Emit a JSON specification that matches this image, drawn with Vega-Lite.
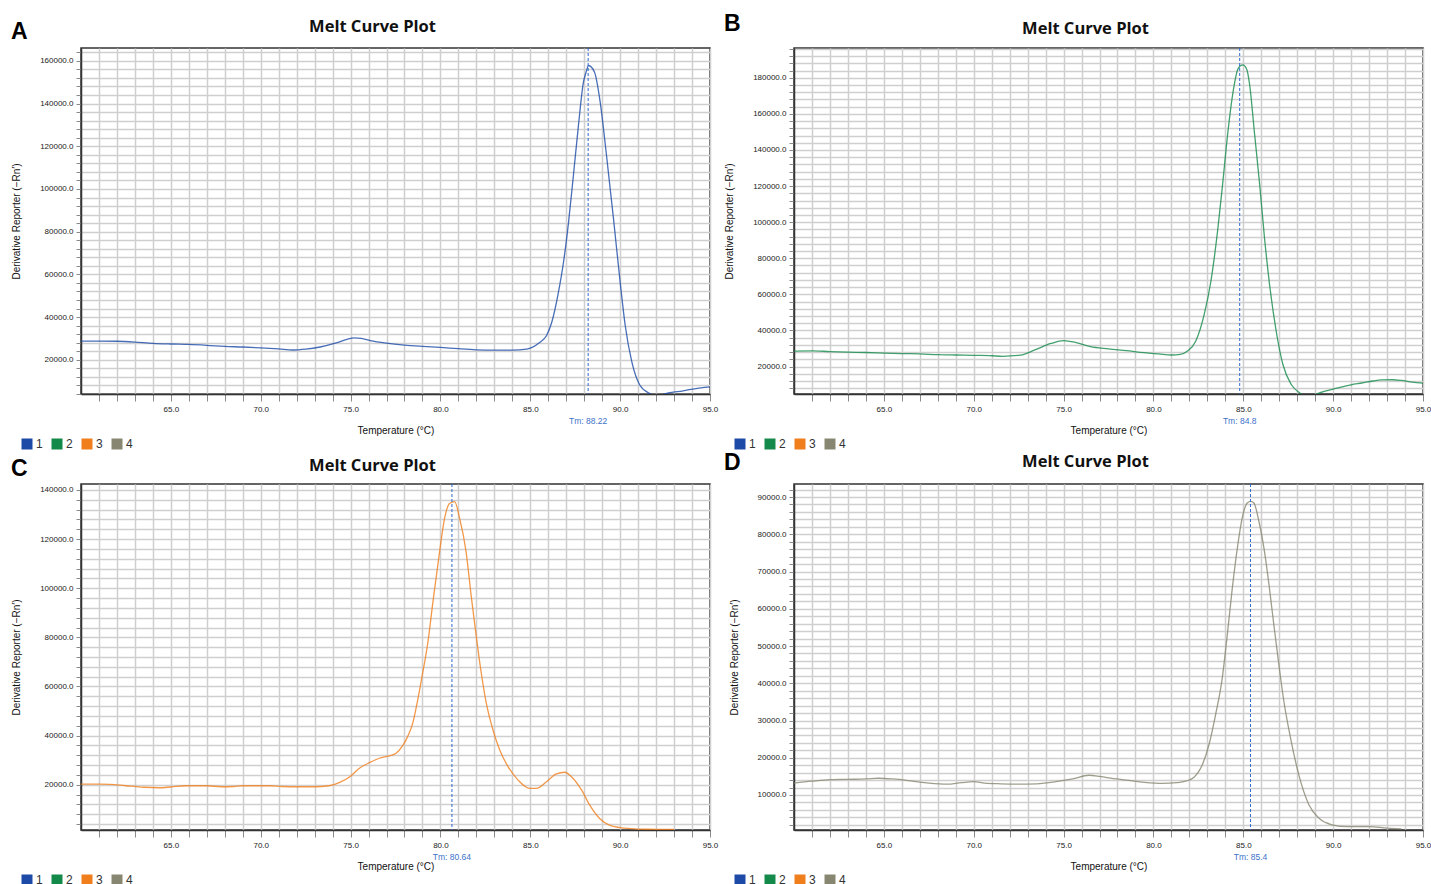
{
"$schema": "https://vega.github.io/schema/vega-lite/v6.json",
"padding": {"left": 10, "top": 11, "right": 0, "bottom": 0},
"columns": 2,
"spacing": {"row": 90, "column": 84},
"bounds": "flush",
"resolve": {"scale": {"color": "independent", "x": "independent", "y": "independent"}},
"datasets": {
"curveA": [
{"T":60,"V":28800,"well":"1"},{"T":61,"V":28800,"well":"1"},{"T":62,"V":28700,"well":"1"},{"T":63,"V":28300,"well":"1"},{"T":64,"V":27700,"well":"1"},{"T":65,"V":27400,"well":"1"},{"T":66,"V":27200,"well":"1"},{"T":67,"V":26800,"well":"1"},{"T":68,"V":26300,"well":"1"},{"T":69,"V":26000,"well":"1"},{"T":70,"V":25600,"well":"1"},{"T":71,"V":25100,"well":"1"},{"T":71.8,"V":24600,"well":"1"},{"T":72.5,"V":25000,"well":"1"},{"T":73.3,"V":26000,"well":"1"},{"T":74.2,"V":27900,"well":"1"},{"T":74.8,"V":29600,"well":"1"},{"T":75.2,"V":30300,"well":"1"},{"T":75.6,"V":30000,"well":"1"},{"T":76.1,"V":29000,"well":"1"},{"T":77,"V":27800,"well":"1"},{"T":78,"V":26900,"well":"1"},{"T":79,"V":26300,"well":"1"},{"T":80,"V":25800,"well":"1"},{"T":81,"V":25200,"well":"1"},{"T":82,"V":24700,"well":"1"},{"T":83,"V":24500,"well":"1"},{"T":84,"V":24500,"well":"1"},{"T":84.8,"V":25000,"well":"1"},{"T":85.5,"V":28000,"well":"1"},{"T":85.9,"V":31300,"well":"1"},{"T":86.2,"V":37700,"well":"1"},{"T":86.57,"V":51800,"well":"1"},{"T":86.85,"V":65800,"well":"1"},{"T":87.13,"V":84500,"well":"1"},{"T":87.4,"V":106400,"well":"1"},{"T":87.68,"V":129800,"well":"1"},{"T":87.96,"V":150100,"well":"1"},{"T":88.11,"V":154800,"well":"1"},{"T":88.24,"V":157800,"well":"1"},{"T":88.57,"V":154800,"well":"1"},{"T":88.89,"V":140700,"well":"1"},{"T":89.22,"V":117300,"well":"1"},{"T":89.63,"V":86100,"well":"1"},{"T":90,"V":56400,"well":"1"},{"T":90.28,"V":36200,"well":"1"},{"T":90.65,"V":19000,"well":"1"},{"T":91.1,"V":8100,"well":"1"},{"T":91.67,"V":4100,"well":"1"},{"T":92,"V":3000,"well":"1"},{"T":92.5,"V":4100,"well":"1"},{"T":93.5,"V":5500,"well":"1"},{"T":94.5,"V":6900,"well":"1"},{"T":95,"V":7300,"well":"1"}
],
"curveB": [
{"T":60,"V":28600,"well":"2"},{"T":61,"V":28700,"well":"2"},{"T":62,"V":28300,"well":"2"},{"T":63,"V":28000,"well":"2"},{"T":64,"V":27800,"well":"2"},{"T":65,"V":27500,"well":"2"},{"T":66,"V":27200,"well":"2"},{"T":67,"V":27000,"well":"2"},{"T":68,"V":26600,"well":"2"},{"T":69,"V":26400,"well":"2"},{"T":70,"V":26200,"well":"2"},{"T":71,"V":26000,"well":"2"},{"T":71.6,"V":25700,"well":"2"},{"T":72.6,"V":26300,"well":"2"},{"T":73.4,"V":29200,"well":"2"},{"T":74.3,"V":32800,"well":"2"},{"T":75,"V":34400,"well":"2"},{"T":75.7,"V":33300,"well":"2"},{"T":76.5,"V":31000,"well":"2"},{"T":77.5,"V":29800,"well":"2"},{"T":78.5,"V":28800,"well":"2"},{"T":79.5,"V":27700,"well":"2"},{"T":80.3,"V":27000,"well":"2"},{"T":81,"V":26400,"well":"2"},{"T":81.5,"V":26800,"well":"2"},{"T":81.9,"V":28600,"well":"2"},{"T":82.36,"V":34200,"well":"2"},{"T":82.83,"V":49000,"well":"2"},{"T":83.2,"V":67400,"well":"2"},{"T":83.57,"V":95100,"well":"2"},{"T":83.85,"V":121000,"well":"2"},{"T":84.13,"V":148700,"well":"2"},{"T":84.41,"V":170800,"well":"2"},{"T":84.72,"V":185200,"well":"2"},{"T":84.97,"V":187100,"well":"2"},{"T":85.2,"V":184500,"well":"2"},{"T":85.35,"V":176400,"well":"2"},{"T":85.63,"V":148700,"well":"2"},{"T":85.91,"V":121000,"well":"2"},{"T":86.18,"V":91400,"well":"2"},{"T":86.46,"V":65600,"well":"2"},{"T":86.83,"V":39700,"well":"2"},{"T":87.2,"V":21300,"well":"2"},{"T":87.66,"V":10200,"well":"2"},{"T":88.13,"V":5500,"well":"2"},{"T":88.6,"V":3000,"well":"2"},{"T":89.1,"V":4900,"well":"2"},{"T":89.5,"V":6200,"well":"2"},{"T":90,"V":7500,"well":"2"},{"T":90.5,"V":8700,"well":"2"},{"T":91,"V":9900,"well":"2"},{"T":91.6,"V":10900,"well":"2"},{"T":92.2,"V":12000,"well":"2"},{"T":92.7,"V":12600,"well":"2"},{"T":93.3,"V":12700,"well":"2"},{"T":93.8,"V":12300,"well":"2"},{"T":94.4,"V":11400,"well":"2"},{"T":95,"V":10800,"well":"2"}
],
"curveC": [
{"T":60,"V":20300,"well":"3"},{"T":61,"V":20300,"well":"3"},{"T":61.6,"V":20200,"well":"3"},{"T":62.5,"V":19600,"well":"3"},{"T":63.5,"V":19000,"well":"3"},{"T":64.3,"V":18800,"well":"3"},{"T":65,"V":19100,"well":"3"},{"T":65.8,"V":19600,"well":"3"},{"T":67,"V":19600,"well":"3"},{"T":67.8,"V":19200,"well":"3"},{"T":68.5,"V":19300,"well":"3"},{"T":69,"V":19600,"well":"3"},{"T":70.5,"V":19600,"well":"3"},{"T":71.2,"V":19300,"well":"3"},{"T":72,"V":19200,"well":"3"},{"T":73,"V":19200,"well":"3"},{"T":73.8,"V":19600,"well":"3"},{"T":74.4,"V":21000,"well":"3"},{"T":75,"V":23500,"well":"3"},{"T":75.49,"V":26700,"well":"3"},{"T":76.05,"V":29000,"well":"3"},{"T":76.6,"V":30800,"well":"3"},{"T":77.16,"V":31800,"well":"3"},{"T":77.53,"V":32800,"well":"3"},{"T":77.9,"V":35900,"well":"3"},{"T":78.18,"V":39700,"well":"3"},{"T":78.46,"V":45100,"well":"3"},{"T":78.74,"V":54700,"well":"3"},{"T":78.98,"V":64200,"well":"3"},{"T":79.3,"V":77900,"well":"3"},{"T":79.58,"V":94200,"well":"3"},{"T":79.95,"V":114700,"well":"3"},{"T":80.23,"V":128400,"well":"3"},{"T":80.51,"V":134500,"well":"3"},{"T":80.79,"V":135200,"well":"3"},{"T":81.07,"V":128400,"well":"3"},{"T":81.43,"V":114700,"well":"3"},{"T":81.71,"V":97000,"well":"3"},{"T":81.99,"V":80600,"well":"3"},{"T":82.27,"V":65600,"well":"3"},{"T":82.55,"V":53300,"well":"3"},{"T":82.92,"V":42400,"well":"3"},{"T":83.3,"V":34200,"well":"3"},{"T":83.76,"V":27400,"well":"3"},{"T":84.32,"V":21900,"well":"3"},{"T":84.97,"V":18500,"well":"3"},{"T":85.34,"V":18500,"well":"3"},{"T":85.9,"V":21200,"well":"3"},{"T":86.45,"V":24400,"well":"3"},{"T":86.92,"V":25100,"well":"3"},{"T":87.29,"V":23300,"well":"3"},{"T":87.85,"V":17900,"well":"3"},{"T":88.31,"V":11700,"well":"3"},{"T":88.87,"V":6200,"well":"3"},{"T":89.43,"V":3500,"well":"3"},{"T":90,"V":2600,"well":"3"},{"T":90.6,"V":2200,"well":"3"},{"T":91.5,"V":1900,"well":"3"},{"T":92.5,"V":1800,"well":"3"},{"T":93,"V":1800,"well":"3"}
],
"curveD": [
{"T":60,"V":13200,"well":"4"},{"T":61,"V":13700,"well":"4"},{"T":62,"V":14100,"well":"4"},{"T":63,"V":14200,"well":"4"},{"T":64,"V":14300,"well":"4"},{"T":64.7,"V":14500,"well":"4"},{"T":65.5,"V":14300,"well":"4"},{"T":66.5,"V":13800,"well":"4"},{"T":67.5,"V":13200,"well":"4"},{"T":68.5,"V":12900,"well":"4"},{"T":69.3,"V":13300,"well":"4"},{"T":70,"V":13600,"well":"4"},{"T":70.6,"V":13200,"well":"4"},{"T":71.5,"V":13000,"well":"4"},{"T":72.5,"V":12900,"well":"4"},{"T":73.5,"V":13000,"well":"4"},{"T":74.5,"V":13500,"well":"4"},{"T":75.5,"V":14300,"well":"4"},{"T":76.4,"V":15300,"well":"4"},{"T":77,"V":15000,"well":"4"},{"T":77.5,"V":14600,"well":"4"},{"T":78.5,"V":14000,"well":"4"},{"T":79.5,"V":13400,"well":"4"},{"T":80.5,"V":13100,"well":"4"},{"T":81.3,"V":13300,"well":"4"},{"T":81.8,"V":13700,"well":"4"},{"T":82.26,"V":14750,"well":"4"},{"T":82.72,"V":18100,"well":"4"},{"T":83.09,"V":23500,"well":"4"},{"T":83.46,"V":31600,"well":"4"},{"T":83.83,"V":41400,"well":"4"},{"T":84.11,"V":53000,"well":"4"},{"T":84.39,"V":65600,"well":"4"},{"T":84.67,"V":76300,"well":"4"},{"T":84.94,"V":84400,"well":"4"},{"T":85.22,"V":88400,"well":"4"},{"T":85.41,"V":88850,"well":"4"},{"T":85.59,"V":88400,"well":"4"},{"T":85.87,"V":83500,"well":"4"},{"T":86.15,"V":76300,"well":"4"},{"T":86.43,"V":66500,"well":"4"},{"T":86.7,"V":55700,"well":"4"},{"T":86.98,"V":45000,"well":"4"},{"T":87.26,"V":35100,"well":"4"},{"T":87.63,"V":25300,"well":"4"},{"T":88.09,"V":15400,"well":"4"},{"T":88.65,"V":7400,"well":"4"},{"T":89.2,"V":3800,"well":"4"},{"T":89.94,"V":2000,"well":"4"},{"T":90.8,"V":1500,"well":"4"},{"T":92,"V":1500,"well":"4"},{"T":93,"V":1100,"well":"4"},{"T":93.8,"V":900,"well":"4"}
]
},
"concat": [
{
"width": 629, "height": 346,
"layer": [
{"data": {"name": "curveA"},
 "mark": {"type": "line", "clip": true, "strokeWidth": 1.3, "strokeOpacity": 0.8, "interpolate": "monotone"},
 "encoding": {
  "x": {"field": "T", "type": "quantitative", "title": "Temperature (°C)", "scale": {"domain": [60, 95], "nice": false, "zero": false},
   "axis": {"tickCount": 200, "values": [61,62,63,64,65,66,67,68,69,70,71,72,73,74,75,76,77,78,79,80,81,82,83,84,85,86,87,88,89,90,91,92,93,94,95], "labelExpr": "datum.value % 5 === 0 ? format(datum.value, '.1f') : ''"}},
  "y": {"field": "V", "type": "quantitative", "title": "Derivative Reporter (−Rn′)", "scale": {"domain": [4000, 166000], "nice": false, "zero": false},
   "axis": {"tickCount": 200, "values": [4000,8000,12000,16000,20000,24000,28000,32000,36000,40000,44000,48000,52000,56000,60000,64000,68000,72000,76000,80000,84000,88000,92000,96000,100000,104000,108000,112000,116000,120000,124000,128000,132000,136000,140000,144000,148000,152000,156000,160000,164000], "labelExpr": "datum.value % 20000 === 0 ? format(datum.value, '.1f') : ''"}},
  "color": {"field": "well", "type": "nominal", "scale": {"domain": ["1","2","3","4"], "range": ["#1c4aa6","#138a4a","#f07e1c","#878670"]},
   "legend": {"orient": "none", "legendX": -60, "legendY": 390, "direction": "horizontal", "title": null, "symbolType": "square", "symbolSize": 121, "symbolOpacity": 1, "labelFontSize": 12, "labelOffset": 3, "columnPadding": 8, "padding": 0, "labelColor": "#333",
    "encode": {"symbols": {"update": {"fill": {"signal": "datum.value === '1' ? '#1c4aa6' : datum.value === '2' ? '#138a4a' : datum.value === '3' ? '#f07e1c' : '#878670'"}, "strokeWidth": {"value": 0}}}}}}
 }},
{"data": {"values": [{"Tm": 88.22, "label": "Tm: 88.22"}]},
 "mark": {"type": "rule", "color": "#2e6ad1", "strokeWidth": 1, "strokeDash": [3, 2]},
 "encoding": {"x": {"field": "Tm", "type": "quantitative", "title": "Temperature (°C)", "scale": {"domain": [60, 95], "nice": false, "zero": false}}}},
{"data": {"values": [{"Tm": 88.22, "label": "Tm: 88.22"}]},
 "mark": {"type": "text", "dy": 27, "baseline": "middle", "align": "center", "fontSize": 8.5, "color": "#3d72c9"},
 "encoding": {"x": {"field": "Tm", "type": "quantitative", "title": "Temperature (°C)", "scale": {"domain": [60, 95], "nice": false, "zero": false}},
  "y": {"datum": 4000, "type": "quantitative", "title": "Derivative Reporter (−Rn′)", "scale": {"domain": [4000, 166000], "nice": false, "zero": false}},
  "text": {"field": "label"}}},
{"data": {"values": [{"letter": "A", "head": "Melt Curve Plot", "mid": 77.5}]},
 "mark": {"type": "text", "dx": -70, "dy": -9.5, "align": "left", "baseline": "alphabetic", "fontSize": 23, "fontWeight": "bold", "color": "#000"},
 "encoding": {"x": {"datum": 60, "type": "quantitative", "title": "Temperature (°C)", "scale": {"domain": [60, 95], "nice": false, "zero": false}},
  "y": {"datum": 166000, "type": "quantitative", "title": "Derivative Reporter (−Rn′)", "scale": {"domain": [4000, 166000], "nice": false, "zero": false}},
  "text": {"field": "letter"}}},
{"data": {"values": [{"letter": "A", "head": "Melt Curve Plot", "mid": 77.5}]},
 "mark": {"type": "text", "dx": -23, "dy": -16, "align": "center", "baseline": "alphabetic", "font": "Open Sans", "fontSize": 16.5, "fontWeight": "bold", "color": "#111"},
 "encoding": {"x": {"field": "mid", "type": "quantitative", "title": "Temperature (°C)", "scale": {"domain": [60, 95], "nice": false, "zero": false}},
  "y": {"datum": 166000, "type": "quantitative", "title": "Derivative Reporter (−Rn′)", "scale": {"domain": [4000, 166000], "nice": false, "zero": false}},
  "text": {"field": "head"}}}
]
},
{
"width": 629, "height": 346,
"layer": [
{"data": {"name": "curveB"},
 "mark": {"type": "line", "clip": true, "strokeWidth": 1.3, "strokeOpacity": 0.8, "interpolate": "monotone"},
 "encoding": {
  "x": {"field": "T", "type": "quantitative", "title": "Temperature (°C)", "scale": {"domain": [60, 95], "nice": false, "zero": false},
   "axis": {"tickCount": 200, "values": [61,62,63,64,65,66,67,68,69,70,71,72,73,74,75,76,77,78,79,80,81,82,83,84,85,86,87,88,89,90,91,92,93,94,95], "labelExpr": "datum.value % 5 === 0 ? format(datum.value, '.1f') : ''"}},
  "y": {"field": "V", "type": "quantitative", "title": "Derivative Reporter (−Rn′)", "scale": {"domain": [4800, 196500], "nice": false, "zero": false},
   "axis": {"tickCount": 200, "values": [8000,12000,16000,20000,24000,28000,32000,36000,40000,44000,48000,52000,56000,60000,64000,68000,72000,76000,80000,84000,88000,92000,96000,100000,104000,108000,112000,116000,120000,124000,128000,132000,136000,140000,144000,148000,152000,156000,160000,164000,168000,172000,176000,180000,184000,188000,192000,196000], "labelExpr": "datum.value % 20000 === 0 ? format(datum.value, '.1f') : ''"}},
  "color": {"field": "well", "type": "nominal", "scale": {"domain": ["1","2","3","4"], "range": ["#1c4aa6","#138a4a","#f07e1c","#878670"]},
   "legend": {"orient": "none", "legendX": -60, "legendY": 390, "direction": "horizontal", "title": null, "symbolType": "square", "symbolSize": 121, "symbolOpacity": 1, "labelFontSize": 12, "labelOffset": 3, "columnPadding": 8, "padding": 0, "labelColor": "#333",
    "encode": {"symbols": {"update": {"fill": {"signal": "datum.value === '1' ? '#1c4aa6' : datum.value === '2' ? '#138a4a' : datum.value === '3' ? '#f07e1c' : '#878670'"}, "strokeWidth": {"value": 0}}}}}}
 }},
{"data": {"values": [{"Tm": 84.8, "label": "Tm: 84.8"}]},
 "mark": {"type": "rule", "color": "#2e6ad1", "strokeWidth": 1, "strokeDash": [3, 2]},
 "encoding": {"x": {"field": "Tm", "type": "quantitative", "title": "Temperature (°C)", "scale": {"domain": [60, 95], "nice": false, "zero": false}}}},
{"data": {"values": [{"Tm": 84.8, "label": "Tm: 84.8"}]},
 "mark": {"type": "text", "dy": 27, "baseline": "middle", "align": "center", "fontSize": 8.5, "color": "#3d72c9"},
 "encoding": {"x": {"field": "Tm", "type": "quantitative", "title": "Temperature (°C)", "scale": {"domain": [60, 95], "nice": false, "zero": false}},
  "y": {"datum": 4800, "type": "quantitative", "title": "Derivative Reporter (−Rn′)", "scale": {"domain": [4800, 196500], "nice": false, "zero": false}},
  "text": {"field": "label"}}},
{"data": {"values": [{"letter": "B", "head": "Melt Curve Plot", "mid": 77.5}]},
 "mark": {"type": "text", "dx": -70, "dy": -17.5, "align": "left", "baseline": "alphabetic", "fontSize": 23, "fontWeight": "bold", "color": "#000"},
 "encoding": {"x": {"datum": 60, "type": "quantitative", "title": "Temperature (°C)", "scale": {"domain": [60, 95], "nice": false, "zero": false}},
  "y": {"datum": 196500, "type": "quantitative", "title": "Derivative Reporter (−Rn′)", "scale": {"domain": [4800, 196500], "nice": false, "zero": false}},
  "text": {"field": "letter"}}},
{"data": {"values": [{"letter": "B", "head": "Melt Curve Plot", "mid": 77.5}]},
 "mark": {"type": "text", "dx": -23, "dy": -14.5, "align": "center", "baseline": "alphabetic", "font": "Open Sans", "fontSize": 16.5, "fontWeight": "bold", "color": "#111"},
 "encoding": {"x": {"field": "mid", "type": "quantitative", "title": "Temperature (°C)", "scale": {"domain": [60, 95], "nice": false, "zero": false}},
  "y": {"datum": 196500, "type": "quantitative", "title": "Derivative Reporter (−Rn′)", "scale": {"domain": [4800, 196500], "nice": false, "zero": false}},
  "text": {"field": "head"}}}
]
},
{
"width": 629, "height": 346,
"layer": [
{"data": {"name": "curveC"},
 "mark": {"type": "line", "clip": true, "strokeWidth": 1.3, "strokeOpacity": 0.8, "interpolate": "monotone"},
 "encoding": {
  "x": {"field": "T", "type": "quantitative", "title": "Temperature (°C)", "scale": {"domain": [60, 95], "nice": false, "zero": false},
   "axis": {"tickCount": 200, "values": [61,62,63,64,65,66,67,68,69,70,71,72,73,74,75,76,77,78,79,80,81,82,83,84,85,86,87,88,89,90,91,92,93,94,95], "labelExpr": "datum.value % 5 === 0 ? format(datum.value, '.1f') : ''"}},
  "y": {"field": "V", "type": "quantitative", "title": "Derivative Reporter (−Rn′)", "scale": {"domain": [1600, 142400], "nice": false, "zero": false},
   "axis": {"tickCount": 200, "values": [4000,8000,12000,16000,20000,24000,28000,32000,36000,40000,44000,48000,52000,56000,60000,64000,68000,72000,76000,80000,84000,88000,92000,96000,100000,104000,108000,112000,116000,120000,124000,128000,132000,136000,140000], "labelExpr": "datum.value % 20000 === 0 ? format(datum.value, '.1f') : ''"}},
  "color": {"field": "well", "type": "nominal", "scale": {"domain": ["1","2","3","4"], "range": ["#1c4aa6","#138a4a","#f07e1c","#878670"]},
   "legend": {"orient": "none", "legendX": -60, "legendY": 390, "direction": "horizontal", "title": null, "symbolType": "square", "symbolSize": 121, "symbolOpacity": 1, "labelFontSize": 12, "labelOffset": 3, "columnPadding": 8, "padding": 0, "labelColor": "#333",
    "encode": {"symbols": {"update": {"fill": {"signal": "datum.value === '1' ? '#1c4aa6' : datum.value === '2' ? '#138a4a' : datum.value === '3' ? '#f07e1c' : '#878670'"}, "strokeWidth": {"value": 0}}}}}}
 }},
{"data": {"values": [{"Tm": 80.64, "label": "Tm: 80.64"}]},
 "mark": {"type": "rule", "color": "#2e6ad1", "strokeWidth": 1, "strokeDash": [3, 2]},
 "encoding": {"x": {"field": "Tm", "type": "quantitative", "title": "Temperature (°C)", "scale": {"domain": [60, 95], "nice": false, "zero": false}}}},
{"data": {"values": [{"Tm": 80.64, "label": "Tm: 80.64"}]},
 "mark": {"type": "text", "dy": 27, "baseline": "middle", "align": "center", "fontSize": 8.5, "color": "#3d72c9"},
 "encoding": {"x": {"field": "Tm", "type": "quantitative", "title": "Temperature (°C)", "scale": {"domain": [60, 95], "nice": false, "zero": false}},
  "y": {"datum": 1600, "type": "quantitative", "title": "Derivative Reporter (−Rn′)", "scale": {"domain": [1600, 142400], "nice": false, "zero": false}},
  "text": {"field": "label"}}},
{"data": {"values": [{"letter": "C", "head": "Melt Curve Plot", "mid": 77.5}]},
 "mark": {"type": "text", "dx": -70, "dy": -8.5, "align": "left", "baseline": "alphabetic", "fontSize": 23, "fontWeight": "bold", "color": "#000"},
 "encoding": {"x": {"datum": 60, "type": "quantitative", "title": "Temperature (°C)", "scale": {"domain": [60, 95], "nice": false, "zero": false}},
  "y": {"datum": 142400, "type": "quantitative", "title": "Derivative Reporter (−Rn′)", "scale": {"domain": [1600, 142400], "nice": false, "zero": false}},
  "text": {"field": "letter"}}},
{"data": {"values": [{"letter": "C", "head": "Melt Curve Plot", "mid": 77.5}]},
 "mark": {"type": "text", "dx": -23, "dy": -13, "align": "center", "baseline": "alphabetic", "font": "Open Sans", "fontSize": 16.5, "fontWeight": "bold", "color": "#111"},
 "encoding": {"x": {"field": "mid", "type": "quantitative", "title": "Temperature (°C)", "scale": {"domain": [60, 95], "nice": false, "zero": false}},
  "y": {"datum": 142400, "type": "quantitative", "title": "Derivative Reporter (−Rn′)", "scale": {"domain": [1600, 142400], "nice": false, "zero": false}},
  "text": {"field": "head"}}}
]
},
{
"width": 629, "height": 346,
"layer": [
{"data": {"name": "curveD"},
 "mark": {"type": "line", "clip": true, "strokeWidth": 1.3, "strokeOpacity": 0.8, "interpolate": "monotone"},
 "encoding": {
  "x": {"field": "T", "type": "quantitative", "title": "Temperature (°C)", "scale": {"domain": [60, 95], "nice": false, "zero": false},
   "axis": {"tickCount": 200, "values": [61,62,63,64,65,66,67,68,69,70,71,72,73,74,75,76,77,78,79,80,81,82,83,84,85,86,87,88,89,90,91,92,93,94,95], "labelExpr": "datum.value % 5 === 0 ? format(datum.value, '.1f') : ''"}},
  "y": {"field": "V", "type": "quantitative", "title": "Derivative Reporter (−Rn′)", "scale": {"domain": [600, 93500], "nice": false, "zero": false},
   "axis": {"tickCount": 200, "values": [2000,4000,6000,8000,10000,12000,14000,16000,18000,20000,22000,24000,26000,28000,30000,32000,34000,36000,38000,40000,42000,44000,46000,48000,50000,52000,54000,56000,58000,60000,62000,64000,66000,68000,70000,72000,74000,76000,78000,80000,82000,84000,86000,88000,90000,92000], "labelExpr": "datum.value % 10000 === 0 ? format(datum.value, '.1f') : ''"}},
  "color": {"field": "well", "type": "nominal", "scale": {"domain": ["1","2","3","4"], "range": ["#1c4aa6","#138a4a","#f07e1c","#878670"]},
   "legend": {"orient": "none", "legendX": -60, "legendY": 390, "direction": "horizontal", "title": null, "symbolType": "square", "symbolSize": 121, "symbolOpacity": 1, "labelFontSize": 12, "labelOffset": 3, "columnPadding": 8, "padding": 0, "labelColor": "#333",
    "encode": {"symbols": {"update": {"fill": {"signal": "datum.value === '1' ? '#1c4aa6' : datum.value === '2' ? '#138a4a' : datum.value === '3' ? '#f07e1c' : '#878670'"}, "strokeWidth": {"value": 0}}}}}}
 }},
{"data": {"values": [{"Tm": 85.4, "label": "Tm: 85.4"}]},
 "mark": {"type": "rule", "color": "#2e6ad1", "strokeWidth": 1, "strokeDash": [3, 2]},
 "encoding": {"x": {"field": "Tm", "type": "quantitative", "title": "Temperature (°C)", "scale": {"domain": [60, 95], "nice": false, "zero": false}}}},
{"data": {"values": [{"Tm": 85.4, "label": "Tm: 85.4"}]},
 "mark": {"type": "text", "dy": 27, "baseline": "middle", "align": "center", "fontSize": 8.5, "color": "#3d72c9"},
 "encoding": {"x": {"field": "Tm", "type": "quantitative", "title": "Temperature (°C)", "scale": {"domain": [60, 95], "nice": false, "zero": false}},
  "y": {"datum": 600, "type": "quantitative", "title": "Derivative Reporter (−Rn′)", "scale": {"domain": [600, 93500], "nice": false, "zero": false}},
  "text": {"field": "label"}}},
{"data": {"values": [{"letter": "D", "head": "Melt Curve Plot", "mid": 77.5}]},
 "mark": {"type": "text", "dx": -70, "dy": -14, "align": "left", "baseline": "alphabetic", "fontSize": 23, "fontWeight": "bold", "color": "#000"},
 "encoding": {"x": {"datum": 60, "type": "quantitative", "title": "Temperature (°C)", "scale": {"domain": [60, 95], "nice": false, "zero": false}},
  "y": {"datum": 93500, "type": "quantitative", "title": "Derivative Reporter (−Rn′)", "scale": {"domain": [600, 93500], "nice": false, "zero": false}},
  "text": {"field": "letter"}}},
{"data": {"values": [{"letter": "D", "head": "Melt Curve Plot", "mid": 77.5}]},
 "mark": {"type": "text", "dx": -23, "dy": -17.5, "align": "center", "baseline": "alphabetic", "font": "Open Sans", "fontSize": 16.5, "fontWeight": "bold", "color": "#111"},
 "encoding": {"x": {"field": "mid", "type": "quantitative", "title": "Temperature (°C)", "scale": {"domain": [60, 95], "nice": false, "zero": false}},
  "y": {"datum": 93500, "type": "quantitative", "title": "Derivative Reporter (−Rn′)", "scale": {"domain": [600, 93500], "nice": false, "zero": false}},
  "text": {"field": "head"}}}
]
}
],
"config": {
 "font": "Liberation Sans",
 "view": {"stroke": "#333333", "strokeWidth": 1.5},
 "axis": {"gridColor": "#cfcfcf", "gridWidth": 1.5, "gridOpacity": 1, "domainColor": "#333333", "domainWidth": 1.5, "tickColor": "#8a8a8a", "tickWidth": 1, "labelFont": "Liberation Sans", "labelFontSize": 8, "labelColor": "#222222", "titleFont": "Liberation Sans", "titleFontSize": 10, "titleFontWeight": "normal", "titleColor": "#111111", "labelOverlap": false, "labelFlush": false, "labelBound": false},
 "axisX": {"tickSize": 7, "labelPadding": 4, "titlePadding": 12},
 "axisY": {"tickSize": 5, "labelPadding": 3, "titlePadding": 18}
}
}
